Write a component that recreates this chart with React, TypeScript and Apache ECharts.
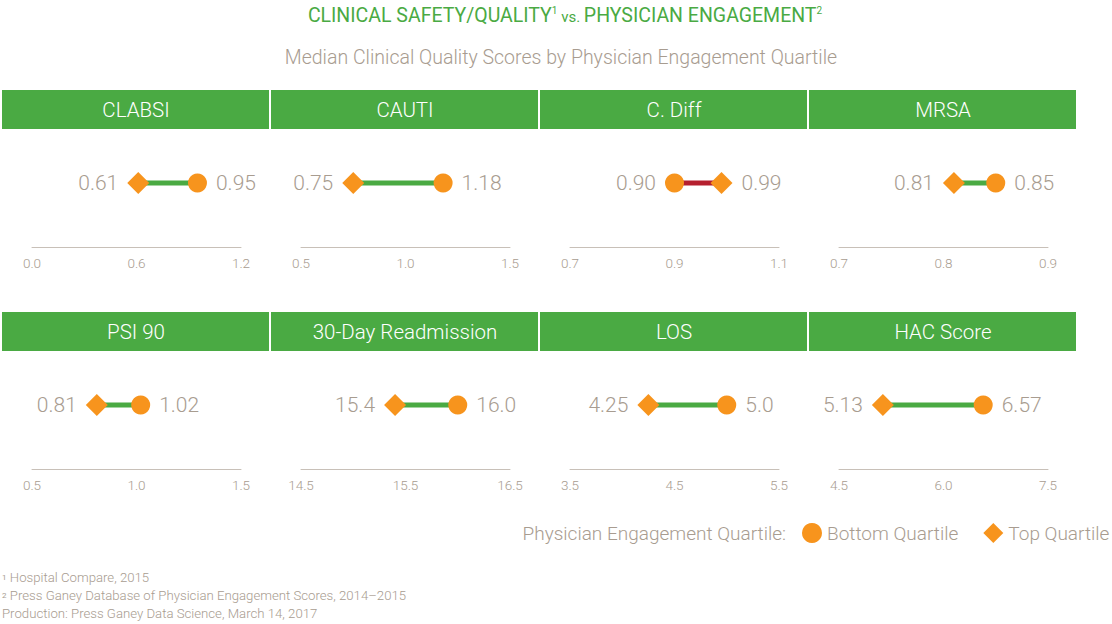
import React, { useEffect, useRef } from "react";
import * as echarts from "echarts";

const metrics = ["CLABSI", "CAUTI", "C. Diff", "MRSA", "PSI 90", "30-Day Readmission", "LOS", "HAC Score"];
const bottomQuartile = [0.95, 1.18, 0.9, 0.85, 1.02, 16.0, 5.0, 6.57];
const topQuartile = [0.61, 0.75, 0.99, 0.81, 0.81, 15.4, 4.25, 5.13];
const bottomLabels = ["0.95", "1.18", "0.90", "0.85", "1.02", "16.0", "5.0", "6.57"];
const topLabels = ["0.61", "0.75", "0.99", "0.81", "0.81", "15.4", "4.25", "5.13"];
const axisMin = [0, 0.5, 0.7, 0.7, 0.5, 14.5, 3.5, 4.5];
const axisMax = [1.2, 1.5, 1.1, 0.9, 1.5, 16.5, 5.5, 7.5];
const tickValues = [
  [0, 0.6, 1.2],
  [0.5, 1.0, 1.5],
  [0.7, 0.9, 1.1],
  [0.7, 0.8, 0.9],
  [0.5, 1.0, 1.5],
  [14.5, 15.5, 16.5],
  [3.5, 4.5, 5.5],
  [4.5, 6.0, 7.5],
];
const footnotes = [
  ["1", "Hospital Compare, 2015"],
  ["2", "Press Ganey Database of Physician Engagement Scores, 2014\u20132015"],
  ["", "Production: Press Ganey Data Science, March 14, 2017"],
];

const FONT = "Roboto, 'Noto Sans', sans-serif";
const GREEN = "#4aaa43";
const RED = "#b51f2e";
const ORANGE = "#f7941d";
const GRAY = "#a89c90";
const AXIS = "#c8c0b8";

export default function App() {
  const ref = useRef<HTMLDivElement>(null);
  useEffect(() => {
    if (!ref.current) return;
    const chart = echarts.init(ref.current, undefined, { renderer: "svg" });
    const panelX = (i: number) => 2 + (i % 4) * 269;
    const rowTop = [90, 312];
    const grids: any[] = [];
    const xAxes: any[] = [];
    const yAxes: any[] = [];
    const series: any[] = [];
    const graphics: any[] = [];
    metrics.forEach((m, i) => {
      const row = Math.floor(i / 4);
      const px = panelX(i);
      grids.push({ left: px + 30, width: 209, top: rowTop[row] + 29, height: 128 });
      xAxes.push({
        type: "value",
        gridIndex: i,
        min: axisMin[i],
        max: axisMax[i],
        axisLine: { show: true, lineStyle: { color: AXIS, width: 1 } },
        axisTick: { show: false },
        splitLine: { show: false },
        axisLabel: {
          customValues: tickValues[i],
          color: GRAY,
          fontSize: 13.5,
          fontWeight: 300,
          fontFamily: FONT,
          margin: 9,
          formatter: (v: number) => v.toFixed(1),
        },
      });
      yAxes.push({ type: "value", gridIndex: i, min: 0, max: 1, show: false });
      const b = bottomQuartile[i];
      const t = topQuartile[i];
      const worse = t > b;
      series.push({
        type: "line",
        xAxisIndex: i,
        yAxisIndex: i,
        data: [[t, 0.5], [b, 0.5]],
        symbol: "none",
        silent: true,
        lineStyle: { color: worse ? RED : GREEN, width: 5 },
        z: 1,
      });
      const lbl = (text: string, pos: string) => ({
        show: true,
        position: pos,
        distance: 9,
        formatter: text,
        color: GRAY,
        fontSize: 21,
        fontWeight: 300,
        fontFamily: FONT,
      });
      series.push({
        type: "scatter",
        name: "Bottom Quartile",
        xAxisIndex: i,
        yAxisIndex: i,
        symbol: "circle",
        symbolSize: 19,
        itemStyle: { color: ORANGE, opacity: 1 },
        data: [[b, 0.5]],
        label: lbl(bottomLabels[i], b >= t ? "right" : "left"),
        z: 3,
      });
      series.push({
        type: "scatter",
        name: "Top Quartile",
        xAxisIndex: i,
        yAxisIndex: i,
        symbol: "diamond",
        symbolSize: 22,
        itemStyle: { color: ORANGE, opacity: 1 },
        data: [[t, 0.5]],
        label: lbl(topLabels[i], t > b ? "right" : "left"),
        z: 3,
      });
      graphics.push({
        type: "rect",
        shape: { x: px, y: rowTop[row], width: 267, height: 39 },
        style: { fill: GREEN },
      });
      graphics.push({
        type: "text",
        x: px + 134,
        y: rowTop[row] + 20,
        style: {
          text: m,
          fill: "#ffffff",
          font: `300 20.5px ${FONT}`,
          align: "center",
          verticalAlign: "middle",
        },
      });
    });

    graphics.push({
      type: "text",
      x: 565,
      y: 15,
      style: {
        text: "{a|CLINICAL SAFETY/QUALITY}{s|1}{v| vs. }{a|PHYSICIAN ENGAGEMENT}{s|2}",
        align: "center",
        verticalAlign: "middle",
        rich: {
          a: { fill: GREEN, fontSize: 19.5, fontFamily: FONT, height: 24 },
          v: { fill: GREEN, fontSize: 15, fontFamily: FONT, height: 24, padding: [3, 0, 0, 0] },
          s: { fill: GREEN, fontSize: 10, fontFamily: FONT, verticalAlign: "top", height: 24, padding: [0, 0, 10, 0] },
        },
      },
    });
    graphics.push({
      type: "text",
      x: 561,
      y: 57,
      style: {
        text: "Median Clinical Quality Scores by Physician Engagement Quartile",
        fill: GRAY,
        font: `300 19.5px ${FONT}`,
        align: "center",
        verticalAlign: "middle",
      },
    });
    graphics.push({
      type: "text",
      x: 786,
      y: 533,
      style: {
        text: "Physician Engagement Quartile:",
        fill: GRAY,
        font: `300 19px ${FONT}`,
        align: "right",
        verticalAlign: "middle",
      },
    });
    footnotes.forEach((f, k) => {
      graphics.push({
        type: "text",
        x: 2,
        y: 577 + k * 18,
        style: {
          text: f[0] ? `{s|${f[0]}} {t|${f[1]}}` : `{t|${f[1]}}`,
          verticalAlign: "middle",
          rich: {
            t: { fill: GRAY, fontSize: 13.2, fontWeight: 300, fontFamily: FONT, height: 16 },
            s: { fill: GRAY, fontSize: 8, fontFamily: FONT, verticalAlign: "top", height: 16 },
          },
        },
      });
    });

    chart.setOption({
      animation: false,
      backgroundColor: "#ffffff",
      grid: grids,
      xAxis: xAxes,
      yAxis: yAxes,
      series,
      legend: {
        data: ["Bottom Quartile", "Top Quartile"],
        orient: "horizontal",
        left: 802,
        top: 523,
        width: 400,
        padding: 0,
        itemWidth: 20,
        itemHeight: 20,
        itemGap: 25,
        selectedMode: false,
        textStyle: { color: GRAY, fontSize: 19, fontWeight: 300, fontFamily: FONT },
      },
      graphic: graphics,
    });
    return () => chart.dispose();
  }, []);
  return (
    <div
      ref={ref}
      style={{ position: "absolute", left: 0, top: 0, width: 1112, height: 624 }}
    />
  );
}
